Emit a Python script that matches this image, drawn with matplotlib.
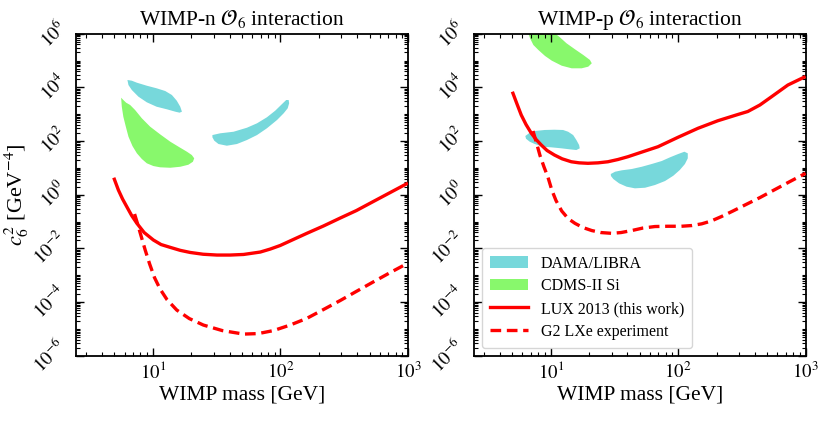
import matplotlib
matplotlib.use("Agg")
import matplotlib.pyplot as plt
from matplotlib.patches import Polygon, Patch
from matplotlib.lines import Line2D
from matplotlib import ticker
import numpy as np

plt.rcParams['font.family'] = ['Liberation Serif', 'DejaVu Serif']
plt.rcParams['mathtext.fontset'] = 'stix'

# ---------------- data (WIMP mass [GeV], c6^2 [GeV^-4]) ----------------
titles = [r"WIMP-n $\mathcal{O}_6$ interaction", r"WIMP-p $\mathcal{O}_6$ interaction"]
xlabel = "WIMP mass [GeV]"
ylabel = r"$c_6^2$ [GeV$^{-4}$]"
legend_labels = ["DAMA/LIBRA", "CDMS-II Si", "LUX 2013 (this work)", "G2 LXe experiment"]

# ---- neutron panel ----
lux_n_mass = [4.94, 5.37, 5.79, 6.25, 6.82, 7.50, 8.55, 10.1, 11.6, 13.7, 16.4, 19.6, 24.8, 31.8,
              40.4, 51.4, 69.5, 83.2, 99.5, 126, 161, 217, 294, 394, 525, 726, 1000]
lux_n_c2 = [4.30, 1.49, 0.690, 0.356, 0.168, 0.0857, 0.0389, 0.0205, 0.0139, 0.0109, 0.00845, 0.00706,
            0.00605, 0.00565, 0.00565, 0.00594, 0.00731, 0.00944, 0.0128, 0.0214, 0.0364, 0.0681,
            0.135, 0.257, 0.533, 1.21, 2.72]
g2_n_mass = [7.19, 7.60, 8.09, 8.71, 9.44, 10.3, 11.4, 12.9, 15.4, 19.3, 24.9, 35.0, 51.4, 67.0,
             88.3, 119, 161, 217, 294, 398, 537, 726, 1000]
g2_n_c2 = [0.191, 0.0807, 0.0288, 8.67e-3, 2.61e-3, 8.18e-4, 3.05e-4, 1.24e-4, 5.03e-5, 2.43e-5,
           1.39e-5, 8.67e-6, 6.41e-6, 6.70e-6, 8.67e-6, 1.39e-5, 2.47e-5, 5.25e-5, 1.14e-4,
           2.57e-4, 5.71e-4, 1.26e-3, 2.84e-3]
dama_n1_mass = [6.32, 6.84, 7.50, 8.97, 10.7, 12.5, 14.1, 15.4, 16.4, 16.9, 16.2, 15.0, 12.9,
                10.7, 8.97, 7.71, 6.84, 6.44]
dama_n1_c2 = [18800, 17700, 14900, 11500, 9230, 7310, 5190, 3180, 1900, 1240, 1140, 1240, 1520,
              1900, 2770, 4490, 7980, 12200]
dama_n2_mass = [29.3, 33.7, 42.9, 54.6, 65.5, 78.3, 91.0, 103, 111, 116, 117, 114, 106, 94.0,
                78.3, 65.5, 54.6, 45.6, 38.0, 32.7, 30.3, 29.3]
dama_n2_c2 = [167, 194, 222, 313, 457, 766, 1350, 2400, 3380, 3380, 2550, 1660, 1080, 607,
              298, 167, 109, 77.4, 67.0, 77.4, 103, 138]
cdms_n_mass = [5.64, 5.71, 5.87, 6.14, 6.44, 6.92, 7.50, 8.20, 8.97, 10.1, 11.4, 13.7, 16.4,
               19.0, 20.6, 21.1, 20.2, 18.5, 15.9, 13.7, 11.4, 9.53, 8.20, 7.26, 6.64, 6.18, 5.87]
cdms_n_c2 = [4120, 1900, 805, 342, 145, 65.2, 34.8, 21.4, 14.8, 11.7, 10.5, 10.1, 11.0,
             13.1, 16.9, 22.7, 30.1, 40.0, 61.4, 94.4, 178, 342, 703, 1430, 2200, 2680, 3380]

# ---- proton panel ----
lux_p_mass = [5.00, 5.40, 5.87, 6.40, 7.05, 7.68, 8.43, 9.36, 10.7, 12.3, 14.5, 16.7, 19.6,
              23.5, 28.1, 33.7, 40.4, 52.9, 69.5, 99.8, 143, 205, 294, 352, 438, 537, 726, 1000]
lux_p_c2 = [6890, 2610, 933, 413, 194, 114, 71.1, 44.4, 30.1, 21.7, 16.9, 15.4, 14.8,
            15.4, 16.9, 20.5, 26.1, 40.0, 61.4, 138, 298, 571, 973, 1260, 2200, 4370, 12200, 25400]
g2_p_mass = [7.26, 7.74, 8.24, 8.86, 9.53, 10.2, 11.0, 12.2, 13.7, 15.5, 17.9, 21.0, 24.8, 30.1,
             35.6, 43.2, 52.9, 65.8, 83.2, 106, 128, 153, 181, 219, 269, 334, 439, 575, 754, 1000]
g2_p_c2 = [236, 84.3, 28.8, 10.8, 4.37, 1.49, 0.607, 0.247, 0.129, 0.0857, 0.0598, 0.0462,
           0.0389, 0.0364, 0.0389, 0.0462, 0.0573, 0.0652, 0.0668, 0.0668, 0.0710, 0.0822,
           0.104, 0.154, 0.247, 0.412, 0.785, 1.56, 3.10, 6.27]
dama_p1_mass = [6.32, 6.84, 7.50, 8.97, 10.7, 12.5, 13.7, 15.0, 15.9, 16.7, 16.9, 15.9, 14.1,
                12.1, 10.1, 8.71, 7.50, 6.84, 6.40]
dama_p1_c2 = [154, 204, 236, 258, 264, 258, 222, 167, 109, 71.1, 53.6, 46.2, 49.1,
              53.6, 58.3, 61.4, 77.4, 94.4, 122]
dama_p2_mass = [29.6, 32.0, 36.1, 43.2, 51.8, 61.9, 74.3, 86.3, 100, 112, 119, 119, 113, 103,
                91.6, 78.9, 65.8, 55.0, 45.8, 39.4, 34.4, 31.0, 29.7]
dama_p2_c2 = [5.90, 7.19, 8.11, 9.06, 11.0, 13.9, 18.0, 24.7, 32.8, 40.0, 34.8, 22.7, 13.9, 8.32,
              5.09, 3.24, 2.30, 1.82, 1.73, 1.99, 2.65, 3.84, 4.97]
cdms_p_mass = [6.49, 6.67, 6.88, 7.31, 8.00, 9.02, 10.2, 12.2, 14.6, 17.5, 19.7, 21.0, 20.3,
               18.0, 15.5, 13.3, 11.8, 10.8, 9.88]
cdms_p_c2 = [1.82e6, 1.03e6, 6.75e5, 3.79e5, 2.47e5, 1.48e5, 9.86e4, 6.41e4, 5.13e4, 5.13e4,
             5.89e4, 7.89e4, 1.05e5, 1.61e5, 2.62e5, 4.39e5, 7.35e5, 1.03e6, 1.82e6]

xlim = (2.5, 1000)
ylim = (1e-6, 1e6)
yticks = [1e-6, 1e-4, 1e-2, 1e0, 1e2, 1e4, 1e6]
ytick_labels = [r"$10^{-6}$", r"$10^{-4}$", r"$10^{-2}$", r"$10^{0}$", r"$10^{2}$", r"$10^{4}$", r"$10^{6}$"]
xticks = [10, 100, 1000]
xtick_labels = [r"$10^{1}$", r"$10^{2}$", r"$10^{3}$"]

# ---------------- style ----------------
dama_color = "#77d8db"
cdms_color = "#88f86c"
line_color = "#ff0000"
lw = 2.4
dash = (3.2, 1.7)

fig = plt.figure(figsize=(8.31, 4.21), dpi=100)
ax1 = fig.add_axes([0.0915, 0.155, 0.3995, 0.765])
ax2 = fig.add_axes([0.5704, 0.155, 0.399, 0.765])


def style(ax, title):
    ax.set_xscale('log')
    ax.set_yscale('log')
    ax.set_xlim(*xlim)
    ax.set_ylim(*ylim)
    ax.xaxis.set_major_locator(ticker.FixedLocator(xticks))
    ax.xaxis.set_major_formatter(ticker.FixedFormatter(xtick_labels))
    ax.xaxis.set_minor_locator(ticker.LogLocator(base=10, subs=np.arange(2, 10), numticks=50))
    ax.xaxis.set_minor_formatter(ticker.NullFormatter())
    ax.yaxis.set_major_locator(ticker.FixedLocator(yticks))
    ax.yaxis.set_major_formatter(ticker.FixedFormatter(ytick_labels))
    ax.yaxis.set_minor_locator(ticker.LogLocator(base=10, subs=np.arange(1, 10), numticks=100))
    ax.yaxis.set_minor_formatter(ticker.NullFormatter())
    ax.tick_params(which='both', direction='in', top=True, right=True, color='black')
    ax.tick_params(which='major', length=5.5, width=1.0, labelsize=13.5, pad=4)
    ax.tick_params(which='minor', length=2.8, width=0.8)
    for lab in ax.get_yticklabels():
        lab.set_rotation(45)
        lab.set_ha('right')
        lab.set_va('center')
    for sp in ax.spines.values():
        sp.set_linewidth(1.3)
    ax.set_title(title, fontsize=15.5, pad=6)
    ax.set_xlabel(xlabel, fontsize=15.5, labelpad=2)


def region(ax, xs, ys, color):
    ax.add_patch(Polygon(np.column_stack([xs, ys]), closed=True, facecolor=color,
                         edgecolor='none', zorder=1))


# left panel
style(ax1, titles[0])
region(ax1, dama_n1_mass, dama_n1_c2, dama_color)
region(ax1, dama_n2_mass, dama_n2_c2, dama_color)
region(ax1, cdms_n_mass, cdms_n_c2, cdms_color)
ax1.plot(lux_n_mass, lux_n_c2, color=line_color, lw=lw, solid_capstyle='butt', zorder=3)
ax1.plot(g2_n_mass, g2_n_c2, color=line_color, lw=lw, ls=(0, dash), zorder=3)
ax1.set_ylabel(ylabel, fontsize=16)
ax1.yaxis.set_label_coords(-0.135, 0.5)

# right panel
style(ax2, titles[1])
region(ax2, dama_p1_mass, dama_p1_c2, dama_color)
region(ax2, dama_p2_mass, dama_p2_c2, dama_color)
region(ax2, cdms_p_mass, cdms_p_c2, cdms_color)
ax2.plot(lux_p_mass, lux_p_c2, color=line_color, lw=lw, solid_capstyle='butt', zorder=3)
ax2.plot(g2_p_mass, g2_p_c2, color=line_color, lw=lw, ls=(0, dash), zorder=3)

handles = [Patch(facecolor=dama_color, edgecolor='none'),
           Patch(facecolor=cdms_color, edgecolor='none'),
           Line2D([], [], color=line_color, lw=lw),
           Line2D([], [], color=line_color, lw=lw, ls=(0, dash))]
ax2.legend(handles, legend_labels, loc='lower left', fontsize=11.5, handlelength=2.4,
           handletextpad=0.8, labelspacing=0.42, borderpad=0.5, borderaxespad=0.5,
           framealpha=0.8, edgecolor='0.8', fancybox=True)

fig.savefig("out.png", dpi=100)
